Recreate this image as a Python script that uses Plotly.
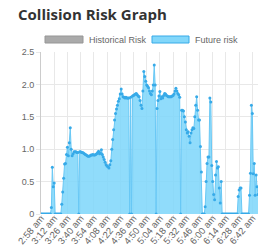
import plotly.graph_objects as go

# Minute-by-minute labels starting at 2:58 am
start_minute = 2 * 60 + 58
risk_values = [
    0, 0, 0, 0, 0, 0, 0, 0, 0, 0,
    0, 0.1, 0.72, 0.42, 0.48, 0, 0, 0, 0, 0,
    0, 0, 0.15, 0.34, 0.55, 0.77, 0.78, 0.92, 1.03, 0.9,
    1.1, 1.33, 1.0, 0.9, 0.93, 0.96, 0.96, 0.96, 0.95, 0.95,
    0, 0.96, 0.96, 0.95, 0.95, 0.94, 0.93, 0.92, 0.91, 0.9,
    0.89, 0.89, 0.9, 0.91, 0.91, 0.92, 0.91, 0.91, 0.92, 0.93,
    0.95, 0.97, 0.93, 0.94, 0.99, 0.92, 0.88, 0.84, 0.8, 0.76,
    0.74, 0.73, 0.71, 0.76, 0.82, 1.0, 1.15, 1.3, 1.45, 1.55,
    1.62, 1.68, 1.74, 1.78, 1.85, 1.93, 1.85, 1.81, 1.8, 1.79,
    1.8, 1.79, 1.79, 1.79, 0, 1.8, 0, 1.82, 1.83, 1.84,
    1.85, 1.86, 1.84, 1.82, 1.81, 1.75, 1.68, 1.63, 1.9, 2.2,
    2.12, 2.05, 1.99, 1.97, 1.95, 1.9, 1.86, 1.84, 1.9, 1.99,
    2.3, 1.99, 0, 1.63, 1.75, 1.82, 1.89, 1.78, 1.81, 1.79,
    1.83, 1.86, 1.85, 1.83, 1.82, 1.81, 1.81, 1.81, 1.81, 1.82,
    1.83, 1.85, 1.9, 1.94, 1.9, 1.86, 1.84, 1.8, 0, 1.6,
    1.6, 1.59, 1.5, 1.42, 1.3, 1.25, 1.27, 1.2, 1.1, 1.25,
    1.3, 1.33, 1.32, 1.5, 1.68, 1.81, 1.6, 1.45, 1.45, 1.04,
    0.65, 0, 0, 0, 0.11, 0.5, 0.78, 0.88, 0.88, 1.79,
    1.73, 0.75, 0.5, 0.3, 0.22, 0.6, 0.81, 0.71, 0.73, 0.4,
    0.17, 0.5, 0, 0, 0, 0, 0, 0, 0, 0,
    0, 0, 0, 0, 0, 0, 0, 0, 0, 0.27,
    0.37, 0.4, 0.4, 0, 0, 0, 0, 0, 0, 0,
    0, 0.29, 0.63, 1.68, 1.55, 0.62, 0.78, 0.29, 0.6, 0.42,
    0.3,
]
time_labels = []
for i in range(len(risk_values)):
    m = start_minute + i
    time_labels.append(f"{m // 60}:{m % 60:02d} am")
tick_labels = time_labels[::14]
y_tick_values = [0, 0.5, 1.0, 1.5, 2.0, 2.5]
y_tick_text = ["0", "0.5", "1.0", "1.5", "2.0", "2.5"]
legend_names = ["Historical Risk", "Future risk"]

line_color = "rgb(105,200,245)"
marker_color = "rgb(55,170,232)"
fill_color = "rgba(125,214,250,0.85)"

W, H = 272, 249
ML, MR, MT, MB = 41, 14, 52, 35
PW = W - ML - MR
PH = H - MT - MB


def px(x):  # screen x -> paper
    return (x - ML) / PW


def py(y):  # screen y -> paper
    return (H - MB - y) / PH


fig = go.Figure()
fig.add_trace(go.Scatter(
    x=time_labels, y=risk_values, mode="lines+markers",
    fill="tozeroy", fillcolor=fill_color,
    line=dict(color=line_color, width=1),
    marker=dict(color=marker_color, size=3),
    showlegend=False,
))

grid = "#e8e8e8"
font_small = "Arial, Liberation Sans"
fig.update_layout(
    width=W, height=H,
    margin=dict(l=ML, r=MR, t=MT, b=MB),
    paper_bgcolor="white", plot_bgcolor="white",
    title=dict(text="<b>Collision Risk Graph</b>", x=18 / W, xanchor="left",
               y=1 - 15 / H, yanchor="middle",
               font=dict(family="Open Sans", size=15, color="#333333")),
    xaxis=dict(
        type="category", range=[0, len(risk_values) - 1], automargin=False,
        tickmode="array", tickvals=tick_labels, ticktext=tick_labels,
        tickangle=-50, tickfont=dict(family=font_small, size=9.5, color="#666666"),
        ticklabelstandoff=-10,
        showgrid=True, gridcolor=grid, gridwidth=1,
        ticks="outside", ticklen=4, tickcolor=grid,
        showline=False, zeroline=False,
    ),
    yaxis=dict(
        range=[0, 2.5], automargin=False,
        tickmode="array", tickvals=y_tick_values, ticktext=y_tick_text,
        tickfont=dict(family=font_small, size=9, color="#666666"),
        showgrid=True, gridcolor=grid, gridwidth=1,
        ticks="outside", ticklen=4, tickcolor=grid,
        showline=True, linecolor="#cccccc", linewidth=1,
        zeroline=False,
    ),
    shapes=[
        dict(type="rect", xref="paper", yref="paper",
             x0=px(45), x1=px(83), y0=py(43), y1=py(36),
             fillcolor="rgb(170,170,170)", line=dict(color="rgb(150,150,150)", width=1)),
        dict(type="rect", xref="paper", yref="paper",
             x0=px(152), x1=px(189), y0=py(43), y1=py(36),
             fillcolor="rgb(130,215,250)", line=dict(color=marker_color, width=1)),
    ],
    annotations=[
        dict(text=legend_names[0], xref="paper", yref="paper",
             x=px(87), y=py(39.5), xanchor="left", yanchor="middle",
             showarrow=False, font=dict(family=font_small, size=9, color="#666666")),
        dict(text=legend_names[1], xref="paper", yref="paper",
             x=px(193), y=py(39.5), xanchor="left", yanchor="middle",
             showarrow=False, font=dict(family=font_small, size=9, color="#666666")),
    ],
)

fig.write_html(
    "out.html",
    config={"displayModeBar": False},
    post_script="document.body.style.margin='0';document.body.style.padding='0';",
)
